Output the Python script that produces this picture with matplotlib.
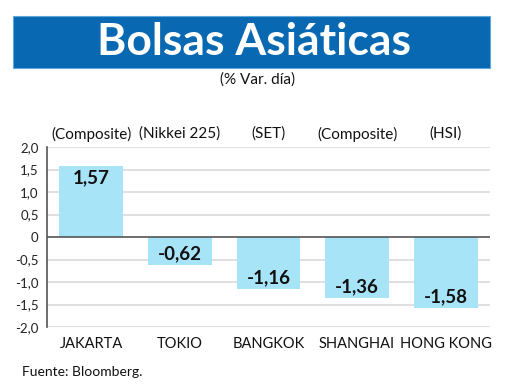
import matplotlib.pyplot as plt
from matplotlib.patches import Rectangle

# Data
cities = ["JAKARTA", "TOKIO", "BANGKOK", "SHANGHAI", "HONG KONG"]
indices = ["(Composite)", "(Nikkei 225)", "(SET)", "(Composite)", "(HSI)"]
values = [1.57, -0.62, -1.16, -1.36, -1.58]
yticks = [2.0, 1.5, 1.0, 0.5, 0, -0.5, -1.0, -1.5, -2.0]
ytick_labels = ["2,0", "1,5", "1,0", "0,5", "0", "-0,5", "-1,0", "-1,5", "-2,0"]

plt.rcParams["font.family"] = ["Lato", "DejaVu Sans"]

W, H = 520, 390
fig = plt.figure(figsize=(W / 100, H / 100), dpi=100)

# Title banner
fig.patches.append(Rectangle((13 / W, 1 - 68 / H), 477 / W, 52 / H,
                             transform=fig.transFigure, facecolor="#0868B2",
                             edgecolor="#5FA8DC", linewidth=0.8))
fig.text(254 / W, 1 - 42 / H, "Bolsas Asiáticas", ha="center", va="center",
         color="white", fontsize=32, fontweight="bold")
fig.text(258 / W, 1 - 80 / H, "(% Var. día)", ha="center", va="center",
         fontsize=11, color="#111111")

# Chart area
ax = fig.add_axes([47 / W, 1 - 327 / H, 443 / W, 180 / H])
x = range(len(cities))
ax.bar(x, values, width=0.72, color="#A8E4F8", zorder=2)
ax.set_xlim(-0.5, len(cities) - 0.5)
ax.set_ylim(-2.0, 2.0)

for yv in yticks:
    if yv != 0:
        ax.axhline(yv, color="#DADADA", linewidth=1.2, zorder=1)
ax.axhline(0, color="#555555", linewidth=1.2, zorder=3)

for s in ["top", "right", "bottom"]:
    ax.spines[s].set_visible(False)
ax.spines["left"].set_color("#555555")
ax.spines["left"].set_linewidth(1.2)

ax.set_yticks(yticks)
ax.set_yticklabels(ytick_labels, fontsize=9.5, color="#222222")
ax.tick_params(axis="y", length=0, pad=6)
ax.set_xticks(list(x))
ax.set_xticklabels(cities, fontsize=10.5, color="#111111")
ax.tick_params(axis="x", length=0, pad=7)

for xi, v, idx in zip(x, values, indices):
    off = -11 if v > 0 else 11
    ax.annotate(f"{v:.2f}".replace(".", ","), (xi, v), xytext=(0, off),
                textcoords="offset pixels", ha="center", va="center",
                fontsize=13.5, fontweight="bold", color="#111111", zorder=4)
    ax.annotate(idx, (xi, 2.0), xytext=(0, 13), textcoords="offset pixels",
                ha="center", va="center", fontsize=11,
                color="#111111", annotation_clip=False)

fig.text(22 / W, 1 - 372 / H, "Fuente: Bloomberg.", ha="left", va="center",
         fontsize=10, color="#111111")

fig.savefig("out.png", dpi=100)
